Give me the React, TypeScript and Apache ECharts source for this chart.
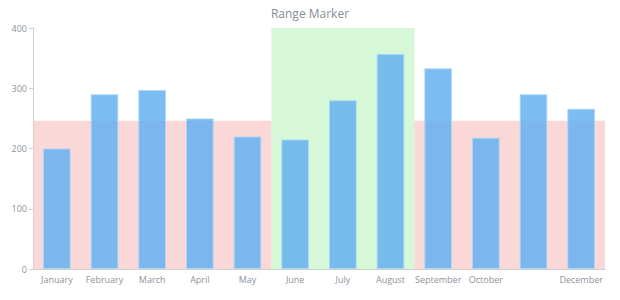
import React, { useEffect, useRef } from "react";
import * as echarts from "echarts";

const months = ["January", "February", "March", "April", "May", "June", "July", "August", "September", "October", "November", "December"];
const values = [200, 290, 297, 250, 220, 215, 280, 357, 333, 218, 290, 266];
const hiddenLabelIndex = [10];
// range markers: [startCategoryIndex, endCategoryIndex(exclusive), yFrom, yTo]
const redRangeA = [0, 5, 0, 246];
const greenRange = [5, 8, 0, 400];
const redRangeB = [8, 12, 0, 246];
const yTicks = [0, 100, 200, 300, 400];

export default function App() {
  const ref = useRef<HTMLDivElement>(null);
  useEffect(() => {
    const chart = echarts.init(ref.current!, null, { renderer: "svg" });
    const font = "'Open Sans', sans-serif";
    const grey = "#8d939c";
    const area = (r: number[], color: string) => [
      { xAxis: r[0], yAxis: r[2], itemStyle: { color } },
      { xAxis: r[1], yAxis: r[3] },
    ];
    chart.setOption({
      animation: false,
      title: {
        text: "Range Marker",
        left: "center",
        top: 2,
        textStyle: { fontFamily: font, fontSize: 12, fontWeight: "normal", color: "#858d98" },
      },
      grid: { left: 33, right: 15, top: 28, bottom: 31 },
      xAxis: [
        {
          type: "category",
          data: months,
          axisLine: { lineStyle: { color: "#d0d0d0" } },
          axisTick: { lineStyle: { color: "#d0d0d0" }, length: 4 },
          axisLabel: {
            color: grey,
            fontFamily: font,
            fontSize: 9,
            margin: 6,
            interval: 0,
            formatter: (v: string, i: number) => (hiddenLabelIndex.includes(i) ? "" : v),
          },
        },
        { type: "value", min: 0, max: 12, show: false },
      ],
      yAxis: {
        type: "value",
        min: 0,
        max: yTicks[yTicks.length - 1],
        interval: 100,
        axisLine: { show: true, lineStyle: { color: "#d0d0d0" } },
        axisTick: { show: true, length: 4, lineStyle: { color: "#d0d0d0" } },
        splitLine: { show: false },
        axisLabel: { color: grey, fontFamily: font, fontSize: 9, margin: 6 },
      },
      series: [
        {
          type: "line",
          xAxisIndex: 1,
          data: [],
          z: 0,
          silent: true,
          markArea: {
            silent: true,
            label: { show: false },
            data: [
              area(redRangeA, "rgba(250,200,200,0.7)"),
              area(greenRange, "rgba(200,246,200,0.75)"),
              area(redRangeB, "rgba(250,200,200,0.7)"),
            ],
          },
        },
        {
          type: "bar",
          data: values,
          z: 2,
          barWidth: "58%",
          itemStyle: {
            color: "rgba(100,178,240,0.85)",
            borderColor: "rgba(170,215,250,0.9)",
            borderWidth: 1,
          },
        },
      ],
    });
    return () => chart.dispose();
  }, []);
  return <div ref={ref} style={{ position: "absolute", left: 0, top: 0, width: 620, height: 300 }} />;
}
